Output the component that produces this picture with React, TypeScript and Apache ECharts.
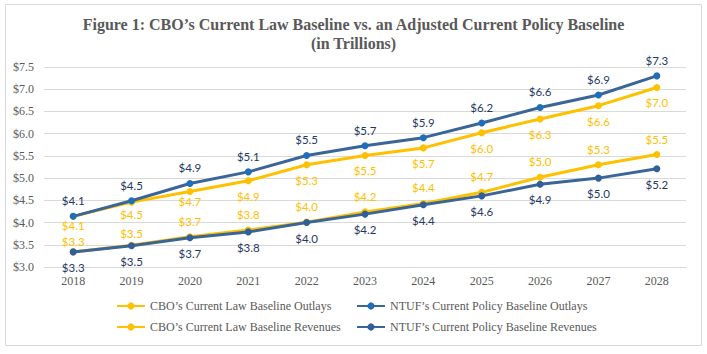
import React, { useEffect, useRef } from "react";
import * as echarts from "echarts";

const years = ["2018", "2019", "2020", "2021", "2022", "2023", "2024", "2025", "2026", "2027", "2028"];
const cboOutlays = [4.14, 4.46, 4.7, 4.94, 5.3, 5.51, 5.68, 6.02, 6.33, 6.63, 7.04];
const ntufOutlays = [4.14, 4.49, 4.88, 5.14, 5.51, 5.73, 5.91, 6.24, 6.59, 6.87, 7.3];
const cboRevenues = [3.34, 3.49, 3.68, 3.83, 4.01, 4.24, 4.43, 4.68, 5.02, 5.3, 5.53];
const ntufRevenues = [3.34, 3.48, 3.66, 3.79, 4.0, 4.19, 4.4, 4.6, 4.86, 5.0, 5.21];

const titleLine1 = "Figure 1: CBO\u2019s Current Law Baseline vs. an Adjusted Current Policy Baseline";
const titleLine2 = "(in Trillions)";
const names = [
  "CBO\u2019s Current Law Baseline Outlays",
  "NTUF\u2019s Current Policy Baseline Outlays",
  "CBO\u2019s Current Law Baseline Revenues",
  "NTUF\u2019s Current Policy Baseline Revenues",
];

const YELLOW = "#FFC000";
const BLUE_LINE = "#3A6597";
const BLUE_MARK_OUT = "#1F6EB8";
const BLUE_MARK_REV = "#30609A";
const BLUE_LABEL = "#1F3864";
const SERIF = "'Liberation Serif', 'Times New Roman', serif";
const LABEL_FONT = "Lato, 'Open Sans', sans-serif";

// label distance tweaks (style only), by point index
const cboOutlayLabelDist: Record<number, number> = { 0: -1, 1: 2, 2: -0.5 };
const cboRevenueLabelDist: Record<number, number> = { 0: 0, 1: 1.5 };

function mkSeries(
  name: string,
  data: number[],
  lineColor: string,
  markColor: string,
  labelColor: string,
  pos: "top" | "bottom",
  z: number,
  dists: Record<number, number> = {}
) {
  return {
    name,
    type: "line",
    data: data.map((v, i) =>
      dists[i] !== undefined ? { value: v, label: { distance: dists[i] } } : v
    ),
    z,
    symbol: "circle",
    symbolSize: 7,
    lineStyle: { color: lineColor, width: 3 },
    itemStyle: { color: markColor },
    label: {
      show: true,
      position: pos,
      distance: 5,
      color: labelColor,
      fontFamily: LABEL_FONT,
      fontSize: 11.5,
      lineHeight: 14,
      formatter: (p: any) => "$" + Number(p.value).toFixed(1),
    },
  };
}

export default function App() {
  const ref = useRef<HTMLDivElement>(null);
  useEffect(() => {
    if (!ref.current) return;
    const chart = echarts.init(ref.current, undefined, { renderer: "svg" });
    const legendText = { fontFamily: SERIF, fontSize: 12, color: "#595959" };
    const mkLegend = (name: string, left: number, top: number) => ({
      data: [name],
      left,
      top,
      itemWidth: 28,
      itemHeight: 9,
      itemGap: 0,
      padding: 0,
      textStyle: legendText,
      selectedMode: false,
    });
    const titleStyle = {
      fontFamily: SERIF,
      fontSize: 16,
      fontWeight: "bold",
      fill: "#595959",
      textAlign: "center",
      textVerticalAlign: "middle",
    };
    chart.setOption({
      animation: false,
      backgroundColor: "#ffffff",
      graphic: [
        {
          type: "rect",
          shape: { x: 5.5, y: 4.5, width: 696, height: 341 },
          style: { fill: "none", stroke: "#D9D9D9", lineWidth: 1 },
          silent: true,
          z: -1,
        },
        { type: "text", x: 353.5, y: 24, style: { ...titleStyle, text: titleLine1 } },
        { type: "text", x: 353.5, y: 43, style: { ...titleStyle, text: titleLine2 } },
      ],
      legend: [
        mkLegend(names[0], 116, 300),
        mkLegend(names[1], 356, 300),
        mkLegend(names[2], 116, 321),
        mkLegend(names[3], 356, 321),
      ],
      grid: { left: 44, right: 21, top: 67, bottom: 87, containLabel: false },
      xAxis: {
        type: "category",
        data: years,
        boundaryGap: true,
        axisLine: { show: true, lineStyle: { color: "#D9D9D9", width: 1 } },
        axisTick: { show: false },
        axisLabel: { color: "#595959", fontFamily: SERIF, fontSize: 12, margin: 8 },
      },
      yAxis: {
        type: "value",
        min: 3.0,
        max: 7.5,
        interval: 0.5,
        axisLine: { show: false },
        axisTick: { show: false },
        splitLine: { lineStyle: { color: "#D9D9D9", width: 1 } },
        axisLabel: {
          color: "#595959",
          fontFamily: SERIF,
          fontSize: 12,
          margin: 10,
          formatter: (v: number) => "$" + v.toFixed(1),
        },
      },
      series: [
        mkSeries(names[0], cboOutlays, YELLOW, YELLOW, YELLOW, "bottom", 2, cboOutlayLabelDist),
        mkSeries(names[1], ntufOutlays, BLUE_LINE, BLUE_MARK_OUT, BLUE_LABEL, "top", 3),
        mkSeries(names[2], cboRevenues, YELLOW, YELLOW, YELLOW, "top", 2, cboRevenueLabelDist),
        mkSeries(names[3], ntufRevenues, BLUE_LINE, BLUE_MARK_REV, BLUE_LABEL, "bottom", 3),
      ],
    });
    return () => chart.dispose();
  }, []);
  return (
    <div
      ref={ref}
      style={{ position: "fixed", left: 0, top: 0, width: 707, height: 354, background: "#fff" }}
    />
  );
}
